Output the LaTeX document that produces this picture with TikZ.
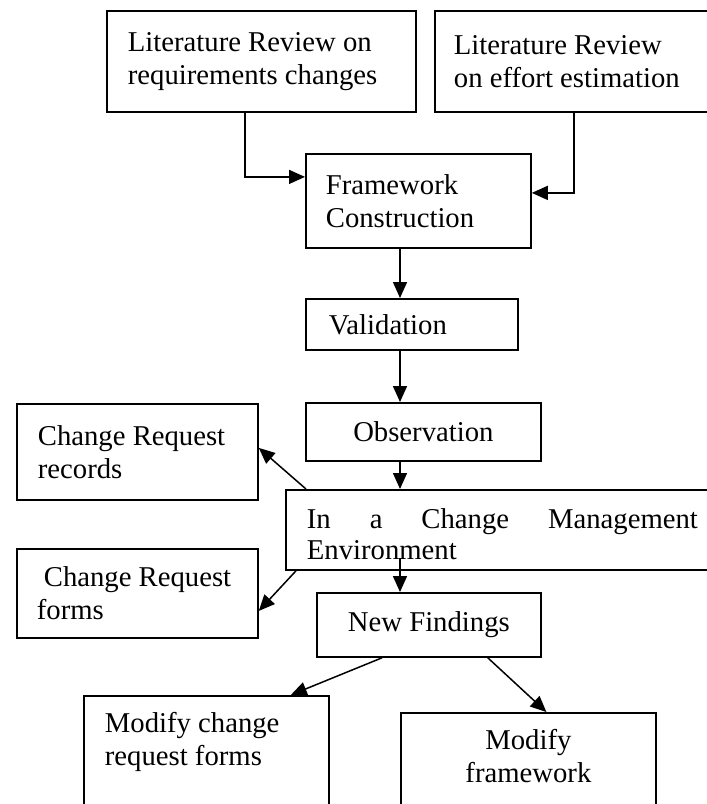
\documentclass[tikz,border=0pt]{standalone}
\usepackage{fontspec}
\setmainfont{Liberation Serif}
\usetikzlibrary{arrows.meta,calc}

\begin{document}
\begin{tikzpicture}[x=1pt,y=-1pt,
	box/.style={draw,line width=1.8pt,anchor=north west,inner xsep=20pt,inner ysep=0pt,
		align=flush left,font=\fontsize{28.7}{33}\selectfont},
	arr/.style={line width=1.5pt,-{Triangle[length=16pt,width=14pt]}}]
	% Frame
	\useasboundingbox (0,0) rectangle (707,804);
	\clip (0,0) rectangle (707,804);
	\coordinate (spine) at (400,0);

	% Literature reviews and framework
	\node[box,inner xsep=21pt,text width=267pt,minimum height=101pt] (litreq) at (106,10) {Literature Review on\\requirements changes};
	\node[box,inner xsep=19pt,text width=240pt,minimum height=101pt] (liteff) at (434,10) {Literature Review\\on effort estimation};
	\node[box,text width=185pt,minimum height=94pt] (frame) at (305,153) {Framework\\Construction};
	\node[box,inner xsep=23pt,text width=166pt,minimum height=51pt] (valid) at (305,298) {Validation};
	\node[box,align=flush center,text width=195pt,minimum height=58pt] (observ) at (305,402) {Observation};

	% Observation side
	\node[box,inner xsep=21pt,text width=199pt,minimum height=96pt] (crrec) at (16,403) {Change Request\\records};
	\node[box,inner xsep=21pt,text width=391pt,minimum height=80pt,text height=28pt,
		font=\fontsize{28.7}{31}\selectfont] (cmenv) at (285,489)
		{\makebox[391pt][s]{In\hfill a\hfill Change\hfill Management}\\Environment};
	\node[box,text width=201pt,minimum height=89pt] (crform) at (16,548) {\hspace*{7pt}Change Request\\forms};
	\node[box,align=flush center,text width=184pt,minimum height=64pt] (newfind) at (316,592) {New Findings};

	% Outcomes
	\node[box,inner xsep=21pt,inner ysep=16pt,text width=203pt,text depth=80pt] (modcrf) at (83,695) {Modify change\\request forms};
	\node[box,align=flush center,inner ysep=16pt,text width=215pt,text depth=80pt] (modfw) at (400,712) {Modify\\framework};

	% Arrows
	\draw[arr] ([xshift=-16.5pt]litreq.south) |- ([yshift=24pt]frame.west);
	\draw[arr] (liteff.south) |- ([yshift=8pt]frame.east);
	\draw[arr] (frame.south -| spine) -- (valid.north -| spine);
	\draw[arr] (valid.south -| spine) -- (observ.north -| spine);
	\draw[arr] (observ.south -| spine) -- (cmenv.north -| spine);
	\draw[arr] ($(cmenv.south -| spine)+(0,-13)$) -- (newfind.north -| spine);
	\draw[arr] ([xshift=21pt]cmenv.north west) -- ([yshift=4pt]crrec.east);
	\draw[arr] ([xshift=11pt]cmenv.south west) -- ([yshift=-17.5pt]crform.east);
	\draw[arr] ([xshift=66pt]newfind.south west) -- ([xshift=-39pt]modcrf.north east);
	\draw[arr] ([xshift=-54pt]newfind.south east) -- ([xshift=18pt]modfw.north);

\end{tikzpicture}
\end{document}
